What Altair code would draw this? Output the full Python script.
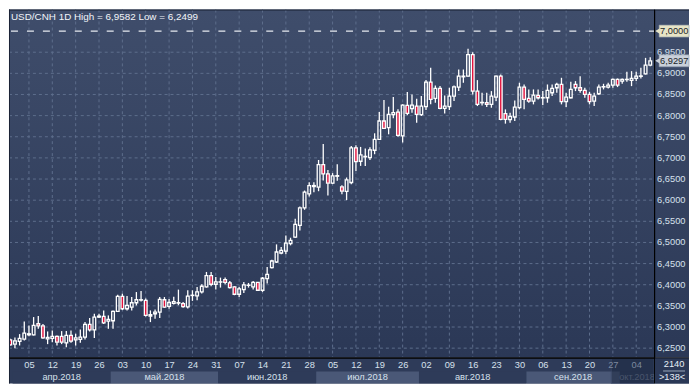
import json
import altair as alt
import pandas as pd

# ---------------- data ----------------
open_ = [6.2697, 6.2595, 6.2658, 6.2713, 6.2816, 6.2816, 6.3077, 6.3029, 6.2721, 6.2729,
         6.2776, 6.2776, 6.2626, 6.2800, 6.2697, 6.2705, 6.2761, 6.3061, 6.2934, 6.3235,
         6.3250, 6.3140, 6.3148, 6.3369, 6.3724, 6.3432, 6.3472, 6.3574, 6.3637, 6.3630,
         6.3258, 6.3314, 6.3353, 6.3645, 6.3490, 6.3560, 6.3565, 6.3555, 6.3476, 6.3745,
         6.3736, 6.3830, 6.3948, 6.4215, 6.4011, 6.4062, 6.4121, 6.4042, 6.3948, 6.3775,
         6.3885, 6.3985, 6.3948, 6.4058, 6.3869, 6.4145, 6.4404, 6.4538, 6.4750, 6.4797,
         6.4970, 6.5127, 6.5403, 6.5819, 6.6149, 6.6322, 6.6307, 6.6841, 6.6621, 6.6403,
         6.6566, 6.6316, 6.6206, 6.6418, 6.7236, 6.6921, 6.7025, 6.7008, 6.7181, 6.7440,
         6.7873, 6.7715, 6.8022, 6.8085, 6.7519, 6.8242, 6.8164, 6.8226, 6.8022, 6.8211,
         6.8792, 6.8407, 6.8643, 6.8171, 6.8211, 6.8462, 6.8675, 6.8918, 6.8934, 6.9445,
         6.8580, 6.8305, 6.8305, 6.8266, 6.8439, 6.8934, 6.8046, 6.7904, 6.7967, 6.8187,
         6.8675, 6.8407, 6.8344, 6.8478, 6.8419, 6.8423, 6.8541, 6.8659, 6.8737, 6.8329,
         6.8423, 6.8737, 6.8659, 6.8596, 6.8502, 6.8344, 6.8517, 6.8678, 6.8675, 6.8722,
         6.8855, 6.8816, 6.8852, 6.8832, 6.8879, 6.8930, 6.8989, 6.9193]

high_ = [6.2721, 6.2753, 6.2832, 6.3132, 6.3037, 6.3235, 6.3258, 6.3069, 6.2895, 6.2919,
         6.2800, 6.2903, 6.2903, 6.2919, 6.2840, 6.2942, 6.3116, 6.3211, 6.3314, 6.3314,
         6.3393, 6.3274, 6.3393, 6.3764, 6.3788, 6.3732, 6.3709, 6.3827, 6.3851, 6.3677,
         6.3393, 6.3416, 6.3709, 6.3709, 6.3660, 6.3715, 6.3885, 6.3594, 6.3869, 6.3869,
         6.3948, 6.4011, 6.4302, 6.4302, 6.4184, 6.4168, 6.4168, 6.4090, 6.3964, 6.3948,
         6.4066, 6.4042, 6.4090, 6.4066, 6.4184, 6.4420, 6.4593, 6.4954, 6.4892, 6.5167,
         6.5112, 6.5560, 6.5851, 6.6228, 6.6425, 6.6425, 6.6951, 6.7329, 6.6715, 6.6640,
         6.6851, 6.6355, 6.6536, 6.7283, 6.7299, 6.7260, 6.7220, 6.7252, 6.7582, 6.8085,
         6.8368, 6.8211, 6.8439, 6.8148, 6.8266, 6.8557, 6.8502, 6.8400, 6.8462, 6.8840,
         6.9130, 6.8714, 6.8698, 6.8478, 6.8659, 6.8714, 6.9091, 6.9091, 6.9582, 6.9500,
         6.8840, 6.8541, 6.8541, 6.8580, 6.8950, 6.8973, 6.8148, 6.8069, 6.8360, 6.8777,
         6.8737, 6.8620, 6.8620, 6.8620, 6.8580, 6.8737, 6.8737, 6.8777, 6.8895, 6.8541,
         6.8800, 6.8816, 6.8934, 6.8659, 6.8564, 6.8541, 6.8737, 6.8753, 6.8777, 6.8879,
         6.8879, 6.8879, 6.9036, 6.9052, 6.9036, 6.9130, 6.9366, 6.9382]

low_ = [6.2563, 6.2499, 6.2563, 6.2682, 6.2784, 6.2800, 6.2958, 6.2721, 6.2595, 6.2642,
        6.2563, 6.2595, 6.2524, 6.2626, 6.2563, 6.2626, 6.2705, 6.2895, 6.2737, 6.3211,
        6.3069, 6.2958, 6.2958, 6.3353, 6.3400, 6.3393, 6.3393, 6.3511, 6.3606, 6.3250,
        6.3116, 6.3195, 6.3211, 6.3456, 6.3430, 6.3530, 6.3516, 6.3453, 6.3437, 6.3618,
        6.3634, 6.3791, 6.3932, 6.3964, 6.3885, 6.3932, 6.4011, 6.3909, 6.3752, 6.3712,
        6.3807, 6.3932, 6.3885, 6.3854, 6.3830, 6.4027, 6.4381, 6.4514, 6.4719, 6.4719,
        6.4931, 6.5112, 6.5285, 6.5772, 6.6087, 6.6189, 6.6212, 6.6464, 6.6110, 6.6380,
        6.6458, 6.6143, 6.6002, 6.6379, 6.6693, 6.6811, 6.6811, 6.6953, 6.7087, 6.7425,
        6.7692, 6.7558, 6.7936, 6.7503, 6.7362, 6.8006, 6.8069, 6.7833, 6.7990, 6.8132,
        6.8266, 6.8305, 6.8148, 6.8053, 6.8132, 6.8344, 6.8580, 6.8777, 6.8918, 6.8502,
        6.8226, 6.8242, 6.8203, 6.8187, 6.8344, 6.7888, 6.7810, 6.7833, 6.7873, 6.8148,
        6.8148, 6.8305, 6.8266, 6.8384, 6.8250, 6.8305, 6.8462, 6.8541, 6.8266, 6.8203,
        6.8407, 6.8580, 6.8541, 6.8423, 6.8266, 6.8226, 6.8486, 6.8620, 6.8643, 6.8659,
        6.8675, 6.8753, 6.8800, 6.8698, 6.8816, 6.8879, 6.8973, 6.9170]

close_ = [6.2579, 6.2674, 6.2729, 6.2855, 6.2840, 6.3037, 6.3029, 6.2745, 6.2753, 6.2776,
          6.2642, 6.2642, 6.2800, 6.2666, 6.2745, 6.2761, 6.3061, 6.2934, 6.3235, 6.3258,
          6.3100, 6.3179, 6.3369, 6.3724, 6.3432, 6.3511, 6.3574, 6.3645, 6.3645, 6.3274,
          6.3290, 6.3353, 6.3653, 6.3472, 6.3580, 6.3600, 6.3575, 6.3484, 6.3728, 6.3752,
          6.3830, 6.3964, 6.4215, 6.4011, 6.4066, 6.4068, 6.4058, 6.3932, 6.3775, 6.3901,
          6.3995, 6.3990, 6.4058, 6.3869, 6.4153, 6.4247, 6.4561, 6.4774, 6.4813, 6.4986,
          6.5049, 6.5426, 6.5819, 6.6189, 6.6346, 6.6346, 6.6841, 6.6621, 6.6401, 6.6575,
          6.6580, 6.6214, 6.6481, 6.7236, 6.6914, 6.7071, 6.7036, 6.7189, 6.7440, 6.7873,
          6.7700, 6.8030, 6.8069, 6.7535, 6.8250, 6.8053, 6.8250, 6.8030, 6.8226, 6.8792,
          6.8384, 6.8643, 6.8171, 6.8226, 6.8462, 6.8682, 6.8934, 6.8934, 6.9445, 6.8580,
          6.8266, 6.8313, 6.8266, 6.8462, 6.8934, 6.7912, 6.7912, 6.7983, 6.8203, 6.8675,
          6.8384, 6.8344, 6.8486, 6.8423, 6.8427, 6.8596, 6.8643, 6.8737, 6.8329, 6.8439,
          6.8620, 6.8659, 6.8596, 6.8502, 6.8329, 6.8462, 6.8675, 6.8686, 6.8722, 6.8855,
          6.8722, 6.8855, 6.8858, 6.8879, 6.8934, 6.8938, 6.9193, 6.9297]

tick_bars = [4, 9, 14, 19, 24, 29, 34, 39, 44, 49, 54, 59, 64, 69, 74, 79, 84, 89,
             94, 99, 104, 109, 114, 119, 124, 129, 134]
day_labels = ["05", "12", "19", "26", "03", "10", "17", "24", "31", "07", "14", "21",
              "28", "05", "12", "19", "26", "02", "09", "16", "23", "30", "06", "13",
              "20", "27", "04"]
month_names = ["апр.2018", "май.2018", "июн.2018", "июл.2018", "авг.2018", "сен.2018", "окт.2018"]
month_first_bar = [1, 22, 45, 66, 88, 111, 131]
y_ticks = [6.25, 6.30, 6.35, 6.40, 6.45, 6.50, 6.55, 6.60, 6.65, 6.70, 6.75, 6.80, 6.85, 6.90, 6.95]
ref_level = 7.0
symbol = "USD/CNH 1D"
counter_text = "2140"

# ---------------- layout ----------------
W, H = 647, 349
AXR = 35
ROW = 13
FONT = "Liberation Sans"
X_DOM = [-0.27, 137.83]
Y_DOM = [6.2278, 7.0509]
xs = alt.Scale(domain=X_DOM, nice=False, zero=False)
ys = alt.Scale(domain=Y_DOM, nice=False, zero=False)

n = len(open_)
candles = pd.DataFrame({"i": list(range(n)), "o": open_, "h": high_, "l": low_, "c": close_})

ends = month_first_bar[1:] + [None]
months = pd.DataFrame({
    "k": list(range(len(month_names))),
    "name": month_names,
    "s": [max(X_DOM[0], f - 0.5) for f in month_first_bar],
    "e": [(e - 0.5) if e is not None else X_DOM[1] for e in ends],
})
one = pd.DataFrame({"a": [0]})
grid_y = pd.DataFrame({"v": y_ticks})
grid_x = pd.DataFrame({"t": tick_bars})
tags = pd.DataFrame({"v": [ref_level, close_[-1]], "k": [0, 1]})

fmt = lambda v: f"{v:.4f}".replace(".", ",")
title_text = f"{symbol} High = {fmt(max(high_))} Low = {fmt(min(low_))}"

x_axis = alt.Axis(
    values=tick_bars,
    labelExpr=f"{json.dumps(day_labels)}[indexof({json.dumps(tick_bars)}, datum.value)]",
    ticks=False, grid=False, title=None, labelPadding=3, labelFont=FONT, labelFontSize=9.3,
    labelColor={"condition": {"test": "datum.value >= 129", "value": "#7d899f"}, "value": "#d6e0ec"},
    labelOverlap=False, labelFlush=False, domainColor="#000000", domainWidth=1, zindex=1,
)
y_axis = alt.Axis(
    orient="right", values=y_ticks, labels=False,
    ticks=False, grid=False, title=None,
    domainColor="#000000", domainWidth=1, zindex=1,
)


def X(field):
    return alt.X(field, type="quantitative", scale=xs, axis=x_axis)


def Y(field):
    return alt.Y(field, type="quantitative", scale=ys, axis=y_axis)


grad = alt.LinearGradient(
    gradient="linear",
    stops=[alt.GradientStop(color="#3f4d6b", offset=0),
           alt.GradientStop(color="#2b3856", offset=1)],
    x1=0, x2=0, y1=0, y2=1,
)

bg = alt.Chart(one).mark_rect(fill=grad).encode(
    x=alt.value(0), x2=alt.value(W + AXR), y=alt.value(0), y2=alt.value(H))
bottom_bg = alt.Chart(one).mark_rect(fill="#2e3b59").encode(
    x=alt.value(0), x2=alt.value(W + AXR), y=alt.value(H), y2=alt.value(H + 2 * ROW))

bands = alt.Chart(months).mark_rect().encode(
    x=X("s"), x2="e:Q",
    y=alt.value(H + ROW + 1), y2=alt.value(H + 2 * ROW),
    fill=alt.condition(alt.datum.k % 2 == 1, alt.value("#4a5877"), alt.value("#2e3b59")),
)

hgrid = alt.Chart(grid_y).mark_rule(color="#5d6d8c", strokeWidth=1, strokeDash=[3, 3]).encode(
    y=Y("v"), x=alt.value(0), x2=alt.value(W))
vgrid = alt.Chart(grid_x).mark_rule(color="#5d6d8c", strokeWidth=1, strokeDash=[3, 3]).encode(
    x=X("t"), y=alt.value(0), y2=alt.value(H))

ref_line = alt.Chart(pd.DataFrame({"v": [ref_level]})).mark_rule(
    color="#e6e9ef", strokeWidth=1.3, strokeDash=[7, 9]).encode(
    y=Y("v"), x=alt.value(2), x2=alt.value(W))

base = alt.Chart(candles).transform_calculate(
    top="max(datum.o, datum.c)", bot="min(datum.o, datum.c)",
    x0="datum.i - 0.29", x1="datum.i + 0.29")

wick_up = base.mark_rule(color="white", strokeWidth=1.3).encode(
    x=X("i"), y=Y("h"), y2="top:Q")
wick_dn = base.mark_rule(color="white", strokeWidth=1.3).encode(
    x=X("i"), y=Y("bot"), y2="l:Q")

bodies = base.mark_rect(stroke="white", strokeWidth=1.3).encode(
    x=X("x0"), x2="x1:Q",
    y=Y("o"), y2="c:Q",
    fill=alt.condition(alt.datum.c < alt.datum.o, alt.value("#e2123d"), alt.value("transparent")),
)

# right-hand price labels (drawn as marks so the price tags can sit over them)
ylabels = alt.Chart(grid_y).transform_calculate(
    lbl="replace(format(datum.v, '.4f'), '.', ',')").mark_text(
    font=FONT, fontSize=9.3, color="#d6e0ec", align="left", baseline="middle").encode(
    x=alt.value(W + 3), y=Y("v"), text="lbl:N")

month_text = alt.Chart(months).transform_calculate(mid="(datum.s + datum.e) / 2").mark_text(
    font=FONT, fontSize=9.3, baseline="middle", align="center").encode(
    x=X("mid"), y=alt.value(H + 20), text="name:N",
    color=alt.condition(alt.datum.k == 6, alt.value("#7d899f"), alt.value("#d6e0ec")),
)

overlay = alt.Chart(one).mark_rect(fill="#1d2942", opacity=0.55, stroke="#3c4a69", strokeWidth=1).encode(
    x=alt.value(W - 43), x2=alt.value(W), y=alt.value(H + 1), y2=alt.value(H + 2 * ROW))

frame_v = alt.Chart(one).mark_rule(color="#000000", strokeWidth=1).encode(
    x=alt.value(W + 0.5), y=alt.value(0), y2=alt.value(H + 2 * ROW))
frame_h = alt.Chart(one).mark_rule(color="#000000", strokeWidth=1).encode(
    x=alt.value(0), x2=alt.value(W + AXR), y=alt.value(H + 0.5))
frame_l = alt.Chart(one).mark_rule(color="#1b2336", strokeWidth=1).encode(
    x=alt.value(0.5), y=alt.value(0), y2=alt.value(H + 2 * ROW))
frame_t = alt.Chart(one).mark_rule(color="#1b2336", strokeWidth=1).encode(
    x=alt.value(0), x2=alt.value(W + AXR), y=alt.value(0.5))

corner = alt.Chart(one).mark_rect(fill="#2b3856").encode(
    x=alt.value(W + 1), x2=alt.value(W + AXR), y=alt.value(H + 1), y2=alt.value(H + 2 * ROW))
corner_line = alt.Chart(one).mark_rule(color="#9aa7bb", strokeWidth=1).encode(
    x=alt.value(W + 9), x2=alt.value(W + 31), y=alt.value(H + ROW + 0.5))
corner_top = alt.Chart(pd.DataFrame({"t": [counter_text]})).mark_text(
    font=FONT, fontSize=9.3, color="#e8eef6", align="center", baseline="middle").encode(
    x=alt.value(W + 20), y=alt.value(H + 7), text="t:N")
corner_bot = alt.Chart(pd.DataFrame({"t": [f">{n}<"]})).mark_text(
    font=FONT, fontSize=9.3, color="#e8eef6", align="center", baseline="middle").encode(
    x=alt.value(W + 18), y=alt.value(H + 20), text="t:N")

tag_base = alt.Chart(tags).transform_calculate(
    lo="datum.v - 0.0142", hi="datum.v + 0.0142",
    lbl="replace(format(datum.v, '.4f'), '.', ',')")
tag_fill = alt.condition(alt.datum.k == 0, alt.value("#e7e4c6"), alt.value("#c9d0da"))
tag_box = tag_base.mark_rect(stroke="#8c97a8", strokeWidth=0.6).encode(
    x=alt.value(W + 5), x2=alt.value(W + AXR), y=Y("lo"), y2="hi:Q", fill=tag_fill)
tag_arrow = tag_base.mark_point(shape="triangle-left", filled=True, size=45, opacity=1).encode(
    x=alt.value(W + 4), y=Y("v"), fill=tag_fill)
tag_text = tag_base.mark_text(font=FONT, fontSize=9.3, color="#1b1f28", align="left",
                              baseline="middle").encode(
    x=alt.value(W + 6), y=Y("v"), text="lbl:N")

title = alt.Chart(pd.DataFrame({"t": [title_text]})).mark_text(
    font=FONT, fontSize=9.9, color="#f2f5f9", align="left", baseline="middle").encode(
    x=alt.value(2), y=alt.value(7), text="t:N")

chart = alt.layer(
    bg, bottom_bg, bands, hgrid, vgrid, ref_line, wick_up, wick_dn, bodies,
    ylabels, month_text, overlay, frame_v, frame_h, frame_l, frame_t,
    corner, corner_line, corner_top, corner_bot,
    tag_box, tag_arrow, tag_text, title,
).properties(width=W, height=H, padding=0, background="white").configure_view(stroke=None)

chart.save("out.html", embed_options={"renderer": "svg", "actions": False})
